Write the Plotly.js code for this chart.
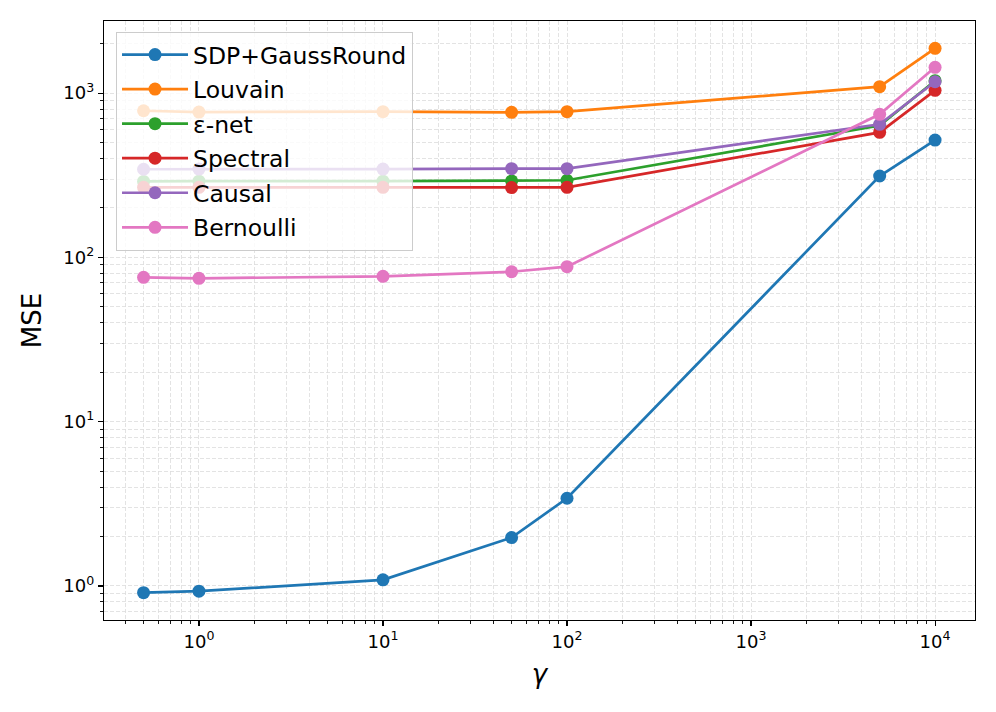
<!DOCTYPE html>
<html>
<head>
<meta charset="utf-8">
<script src="https://cdn.plot.ly/plotly-3.0.1.min.js"></script>
<style>html,body{margin:0;padding:0;background:#fff;}#chart{width:996px;height:712px;}</style>
</head>
<body>
<div id="chart"></div>
<script>
// data
var gamma = [0.5, 1, 10, 50, 100, 5000, 10000];
var sdpGaussRound = [0.91, 0.93, 1.09, 1.97, 3.42, 313, 518];
var louvain = [781, 767, 771, 764, 771, 1094, 1874];
var epsNet = [290, 291, 291, 292, 295, 635, 1190];
var spectral = [267, 267, 267, 266, 267, 577, 1040];
var causal = [344, 345, 345, 347, 347, 646, 1173];
var bernoulli = [75.7, 74.6, 76.7, 81.8, 87.8, 743, 1436];

var seriesNames = ['SDP+GaussRound', 'Louvain', 'ε-net', 'Spectral', 'Causal', 'Bernoulli'];
var seriesValues = [sdpGaussRound, louvain, epsNet, spectral, causal, bernoulli];
var seriesColors = ['#1f77b4', '#ff7f0e', '#2ca02c', '#d62728', '#9467bd', '#e377c2'];

var xTickVals = [1, 10, 100, 1000, 10000];
var xTickText = ['10<sup>0</sup>', '10<sup>1</sup>', '10<sup>2</sup>', '10<sup>3</sup>', '10<sup>4</sup>'];
var yTickVals = [1, 10, 100, 1000];
var yTickText = ['10<sup>0</sup>', '10<sup>1</sup>', '10<sup>2</sup>', '10<sup>3</sup>'];

function minorVals(decades) {
  var out = [];
  decades.forEach(function (d) {
    for (var m = 2; m <= 9; m++) out.push(m * d);
  });
  return out;
}
var xMinor = minorVals([0.1, 1, 10, 100, 1000]);
var yMinor = minorVals([0.1, 1, 10, 100, 1000]);

var traces = seriesNames.map(function (name, i) {
  return {
    x: gamma,
    y: seriesValues[i],
    name: name,
    legendgroup: 'g' + i,
    type: 'scatter',
    mode: 'lines+markers',
    line: {color: seriesColors[i], width: 2.7},
    marker: {color: seriesColors[i], size: 13}
  };
});

var gridColor = '#dcdcdc';
var gridDash = '4px,2px';
var axisCommon = {
  type: 'log',
  showline: true,
  mirror: true,
  linecolor: '#000',
  linewidth: 1.2,
  ticks: 'outside',
  ticklen: 5,
  tickwidth: 1.1,
  tickcolor: '#000',
  tickmode: 'array',
  showgrid: true,
  gridcolor: gridColor,
  griddash: gridDash,
  gridwidth: 0.8,
  zeroline: false,
  tickfont: {family: 'DejaVu Sans', size: 18, color: '#000'}
};

var xaxis = Object.assign({}, axisCommon, {
  range: [-0.516, 4.217],
  tickvals: xTickVals,
  ticktext: xTickText,
  minor: {tickmode: 'array', tickvals: xMinor, ticks: 'outside', ticklen: 3, tickwidth: 0.9, tickcolor: '#000',
          showgrid: true, gridcolor: gridColor, griddash: gridDash, gridwidth: 0.8},
  title: {text: '<i>γ</i>', font: {family: 'DejaVu Sans', size: 26, color: '#000'}, standoff: 14}
});
var yaxis = Object.assign({}, axisCommon, {
  range: [-0.207, 3.439],
  tickvals: yTickVals,
  ticktext: yTickText,
  minor: {tickmode: 'array', tickvals: yMinor, ticks: 'outside', ticklen: 3, tickwidth: 0.9, tickcolor: '#000',
          showgrid: true, gridcolor: gridColor, griddash: gridDash, gridwidth: 0.8},
  title: {text: 'MSE', font: {family: 'DejaVu Sans', size: 26, color: '#000'}, standoff: 14}
});

var layout = {
  width: 996,
  height: 712,
  margin: {l: 104, r: 21, t: 21, b: 92},
  paper_bgcolor: '#fff',
  plot_bgcolor: '#fff',
  font: {family: 'DejaVu Sans', color: '#000'},
  xaxis: xaxis,
  yaxis: yaxis,
  showlegend: true,
  legend: {
    x: 0.0138, y: 0.982, xanchor: 'left', yanchor: 'top',
    bgcolor: 'rgba(255,255,255,0.8)',
    bordercolor: '#cccccc', borderwidth: 1,
    font: {family: 'DejaVu Sans', size: 23.5, color: '#000'},
    traceorder: 'grouped',
    tracegroupgap: 1,
    itemwidth: 66
  }
};

Plotly.newPlot('chart', traces, layout, {staticPlot: true, displayModeBar: false});
</script>
</body>
</html>
